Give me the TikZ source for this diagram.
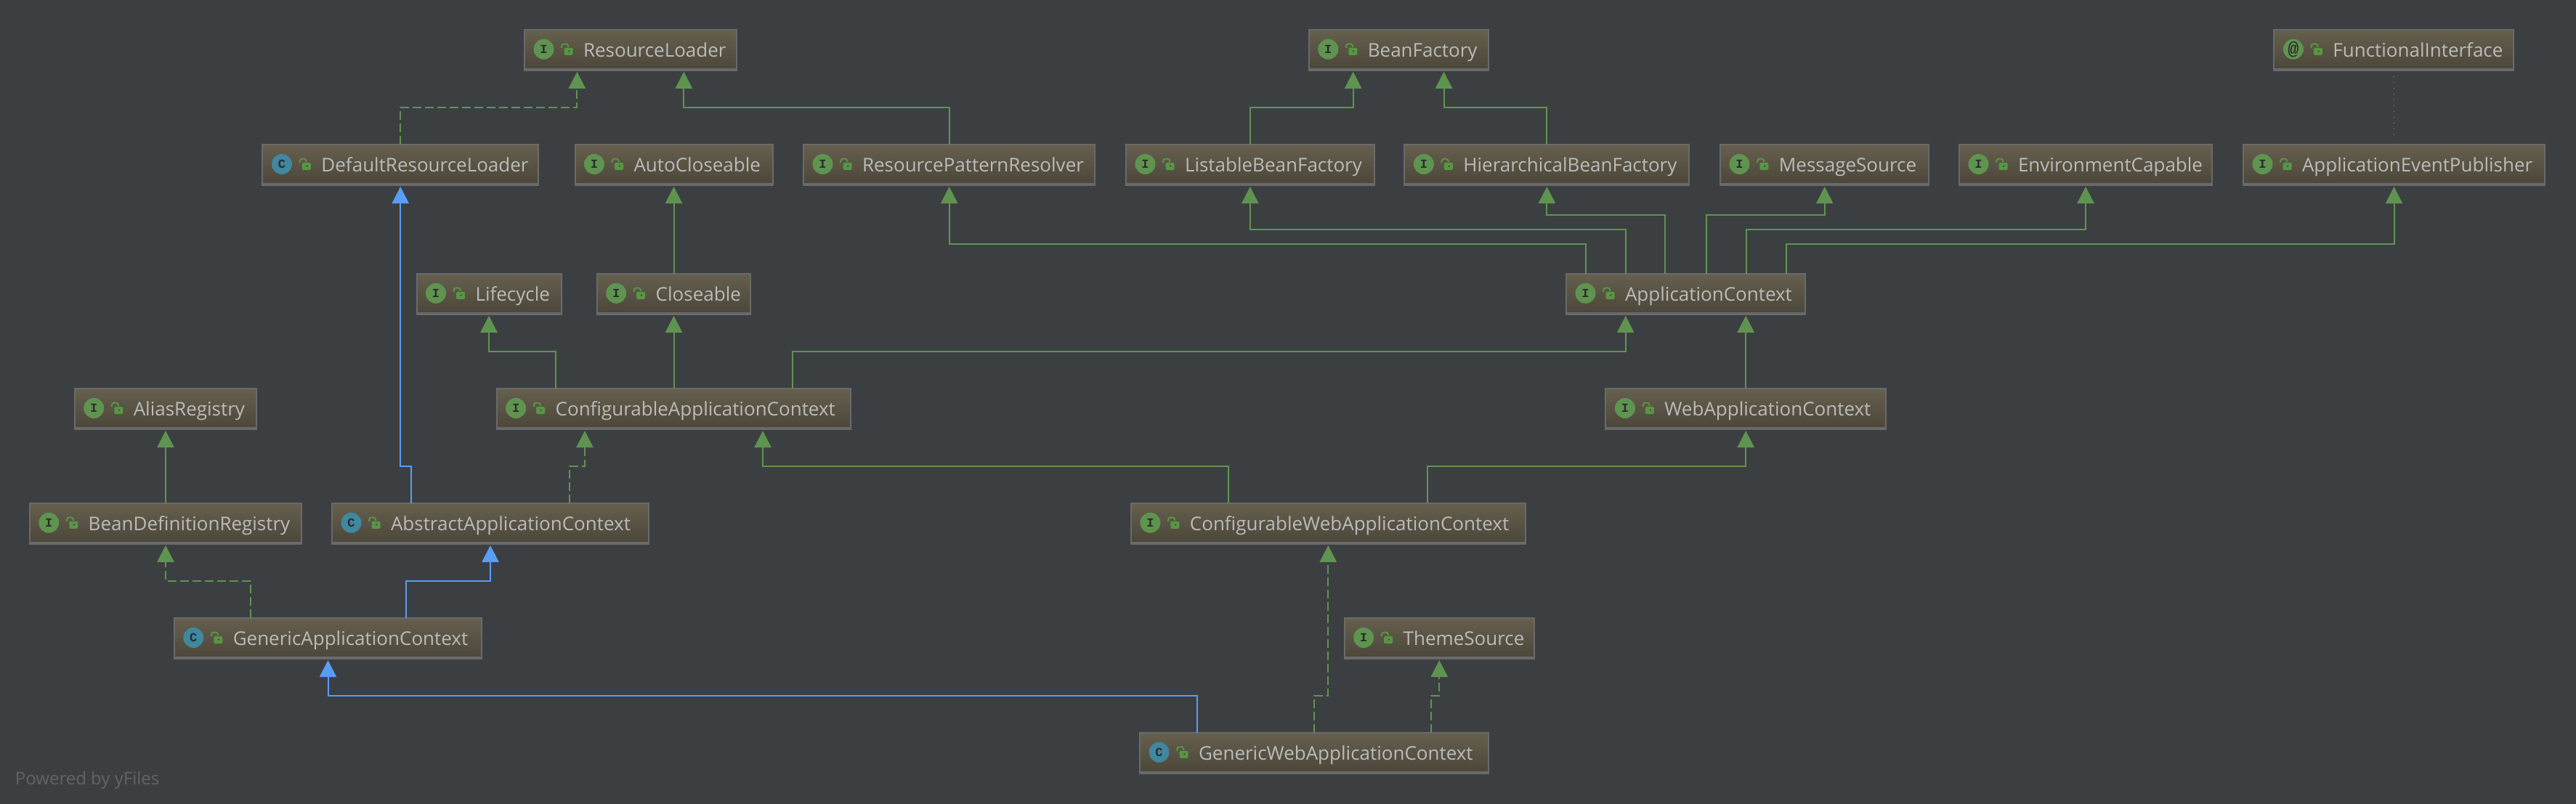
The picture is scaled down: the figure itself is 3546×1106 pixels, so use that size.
\documentclass[tikz,border=0pt]{standalone}
\usepackage{fontspec}
\usepackage{xcolor}
\usepackage{tikz}
\usetikzlibrary{arrows.meta, positioning}
\setmainfont{Open Sans}
\newfontfamily\badgefont{Liberation Mono}
\definecolor{canvas}{HTML}{3C3F41}
\definecolor{boxline}{HTML}{6A6A6A}
\definecolor{boxtop}{HTML}{665F4E}
\definecolor{boxbottom}{HTML}{4A4639}
\definecolor{boxtext}{HTML}{BBBBBB}
\definecolor{implgreen}{HTML}{5F9450}
\definecolor{extblue}{HTML}{589DF6}
\definecolor{badgeblue}{HTML}{40879F}
\definecolor{lockgreen}{HTML}{589645}
\definecolor{dotgreen}{HTML}{849A3A}
\newcommand{\typemark}[3]{
    \fill [boxline] (#1.south west) rectangle ([yshift=3pt]#1.south east);
    \begin{scope}[shift={(#1.west)}]
        \fill [#2] (26.5,-1) circle [radius=14];
        \draw [lockgreen, line width=2pt, rounded corners=3pt]
            (51.2,-3) -- (51.2,-8.3) -- (60.2,-8.3) -- (60.2,-4);
        \fill [lockgreen, rounded corners=1.5pt] (54.5,-3) rectangle (66.5,7);
        \fill [boxbottom] (61.2,1.7) circle [radius=1.3];
        \node (badge#1) [badge] at (26.5,-1) {#3};
    \end{scope}
}
\tikzset{
    typebox/.style={draw=boxline, line width=2pt, top color=boxtop,
        bottom color=boxbottom, minimum height=56pt, inner sep=0pt, outer sep=0pt,
        text=boxtext, font=\fontsize{26}{30}\selectfont, align=left,
        text height=21pt, text depth=2pt,
        execute at begin node={\hspace*{81pt}}},
    badge/.style={text=canvas!70!black, inner sep=0pt,
        font=\badgefont\bfseries\fontsize{17}{17}\selectfont},
    wd/.style={minimum width=#1*1pt-2pt, text width=#1*1pt-2pt},
    extends/.style={implgreen, line width=2pt, shorten >=2pt,
        -{Triangle[length=23pt, width=23pt]}},
    realizes/.style={extends, dash pattern=on 12pt off 5pt},
    subclass/.style={extends, extblue},
    annotated/.style={dotgreen, line width=1pt, dash pattern=on 1pt off 7pt,
        shorten >=6pt, shorten <=8pt}
}

\begin{document}
\begin{tikzpicture} [x=1pt, y=-1pt]

        \useasboundingbox (0,0) rectangle (3546,1106);
        \fill [canvas] (-5,-5) rectangle (3551,1111);

        \node (rl) [typebox, wd=294] at (868,68.75) {ResourceLoader};
        \node (bf) [typebox, wd=249.4] at (1925.5,68.75) {BeanFactory};
        \node (fi) [typebox, wd=331.6] at (3295.2,68.75) {FunctionalInterface};

        \node (drl) [typebox, wd=381.5] at (551.2,227) {DefaultResourceLoader};
        \node (auto) [typebox, wd=274] at (927.5,227) {AutoCloseable};
        \node (rpr) [typebox, wd=403.4] at (1306.7,227) {ResourcePatternResolver};
        \node (lbf) [typebox, wd=343.6] at (1720.8,227) {ListableBeanFactory};
        \node (hbf) [typebox, wd=394] at (2129.4,227) {HierarchicalBeanFactory};
        \node (ms) [typebox, wd=289.5] at (2511.7,227) {MessageSource};
        \node (ec) [typebox, wd=350] at (2871,227) {EnvironmentCapable};
        \node (aep) [typebox, wd=417] at (3295.5,227) {ApplicationEventPublisher};

        \node (lc) [typebox, wd=201] at (673,404.75) {Lifecycle};
        \node (cl) [typebox, wd=213.6] at (927.5,404.75) {Closeable};
        \node (actx) [typebox, wd=331] at (2320.5,404.75) {ApplicationContext};

        \node (ar) [typebox, wd=252.5] at (228,563) {AliasRegistry};
        \node (cac) [typebox, wd=489.7] at (927.5,563) {ConfigurableApplicationContext};
        \node (wac) [typebox, wd=387.6] at (2403.2,563) {WebApplicationContext};

        \node (bdr) [typebox, wd=376.5] at (228,720.75) {BeanDefinitionRegistry};
        \node (aac) [typebox, wd=438] at (675,720.75) {AbstractApplicationContext};
        \node (cwac) [typebox, wd=544.8] at (1828.3,720.75) {ConfigurableWebApplicationContext};

        \node (gac) [typebox, wd=425.5] at (451.5,879) {GenericApplicationContext};
        \node (ts) [typebox, wd=263.3] at (1981.3,879) {ThemeSource};

        \node (gwac) [typebox, wd=481.5] at (1808.8,1036.75) {GenericWebApplicationContext};

        \foreach \n in {rl, bf, auto, rpr, lbf, hbf, ms, ec, aep, lc, cl, actx, ar, cac,
            wac, bdr, cwac, ts} {\typemark{\n}{implgreen}{I}}
        \foreach \n in {drl, aac, gac, gwac} {\typemark{\n}{badgeblue}{C}}
        \typemark{fi}{implgreen}{\fontsize{25}{25}\selectfont @}

        \node (yfiles) [anchor=west, inner sep=0pt, text=boxline!85!canvas,
            font=\fontsize{24}{28}\selectfont] at (20.7,1074) {Powered by yFiles};

        \draw [realizes] (drl.north) -- ++(0,-51) -| ([xshift=-73.6pt]rl.south);
        \draw [extends] (rpr.north) -- ++(0,-51) -| ([xshift=73.3pt]rl.south);
        \draw [extends] (lbf.north) -- ++(0,-51) -| ([xshift=-62.8pt]bf.south);
        \draw [extends] (hbf.north) -- ++(0,-51) -| ([xshift=62pt]bf.south);
        \draw [annotated] (fi.south) -- (aep.north);

        \draw [extends] ([xshift=-137.9pt]actx.north) -- ++(0,-41) -| (rpr.south);
        \draw [extends] ([xshift=-82.8pt]actx.north) -- ++(0,-61) -| (lbf.south);
        \draw [extends] ([xshift=-28.5pt]actx.north) -- ++(0,-81) -| (hbf.south);
        \draw [extends] ([xshift=28.2pt]actx.north) -- ++(0,-81) -| (ms.south);
        \draw [extends] ([xshift=83.1pt]actx.north) -- ++(0,-61) -| (ec.south);
        \draw [extends] ([xshift=138pt]actx.north) -- ++(0,-41) -| (aep.south);

        \draw [extends] (cl.north) -- (auto.south);
        \draw [extends] ([xshift=-163pt]cac.north) -- ++(0,-51) -| (lc.south);
        \draw [extends] (cac.north) -- (cl.south);
        \draw [extends] ([xshift=163pt]cac.north) -- ++(0,-51)
            -| ([xshift=-82.8pt]actx.south);
        \draw [extends] (wac.north) -- ([xshift=82.7pt]actx.south);

        \draw [extends] (bdr.north) -- (ar.south);
        \draw [subclass] ([xshift=-109.4pt]aac.north) -- ++(0,-51) -| (drl.south);
        \draw [realizes] ([xshift=109.4pt]aac.north) -- ++(0,-51)
            -| ([xshift=-122.5pt]cac.south);
        \draw [extends] ([xshift=-137pt]cwac.north) -- ++(0,-51)
            -| ([xshift=122.5pt]cac.south);
        \draw [extends] ([xshift=136.2pt]cwac.north) -- ++(0,-51) -| (wac.south);

        \draw [realizes] ([xshift=-106.5pt]gac.north) -- ++(0,-51) -| (bdr.south);
        \draw [subclass] ([xshift=107.2pt]gac.north) -- ++(0,-51) -| (aac.south);

        \draw [subclass] ([xshift=-161.1pt]gwac.north) -- ++(0,-51) -| (gac.south);
        \draw [realizes] (gwac.north) -- ++(0,-51) -| (cwac.south);
        \draw [realizes] ([xshift=161.1pt]gwac.north) -- ++(0,-51) -| (ts.south);

    \end{tikzpicture}
\end{document}
